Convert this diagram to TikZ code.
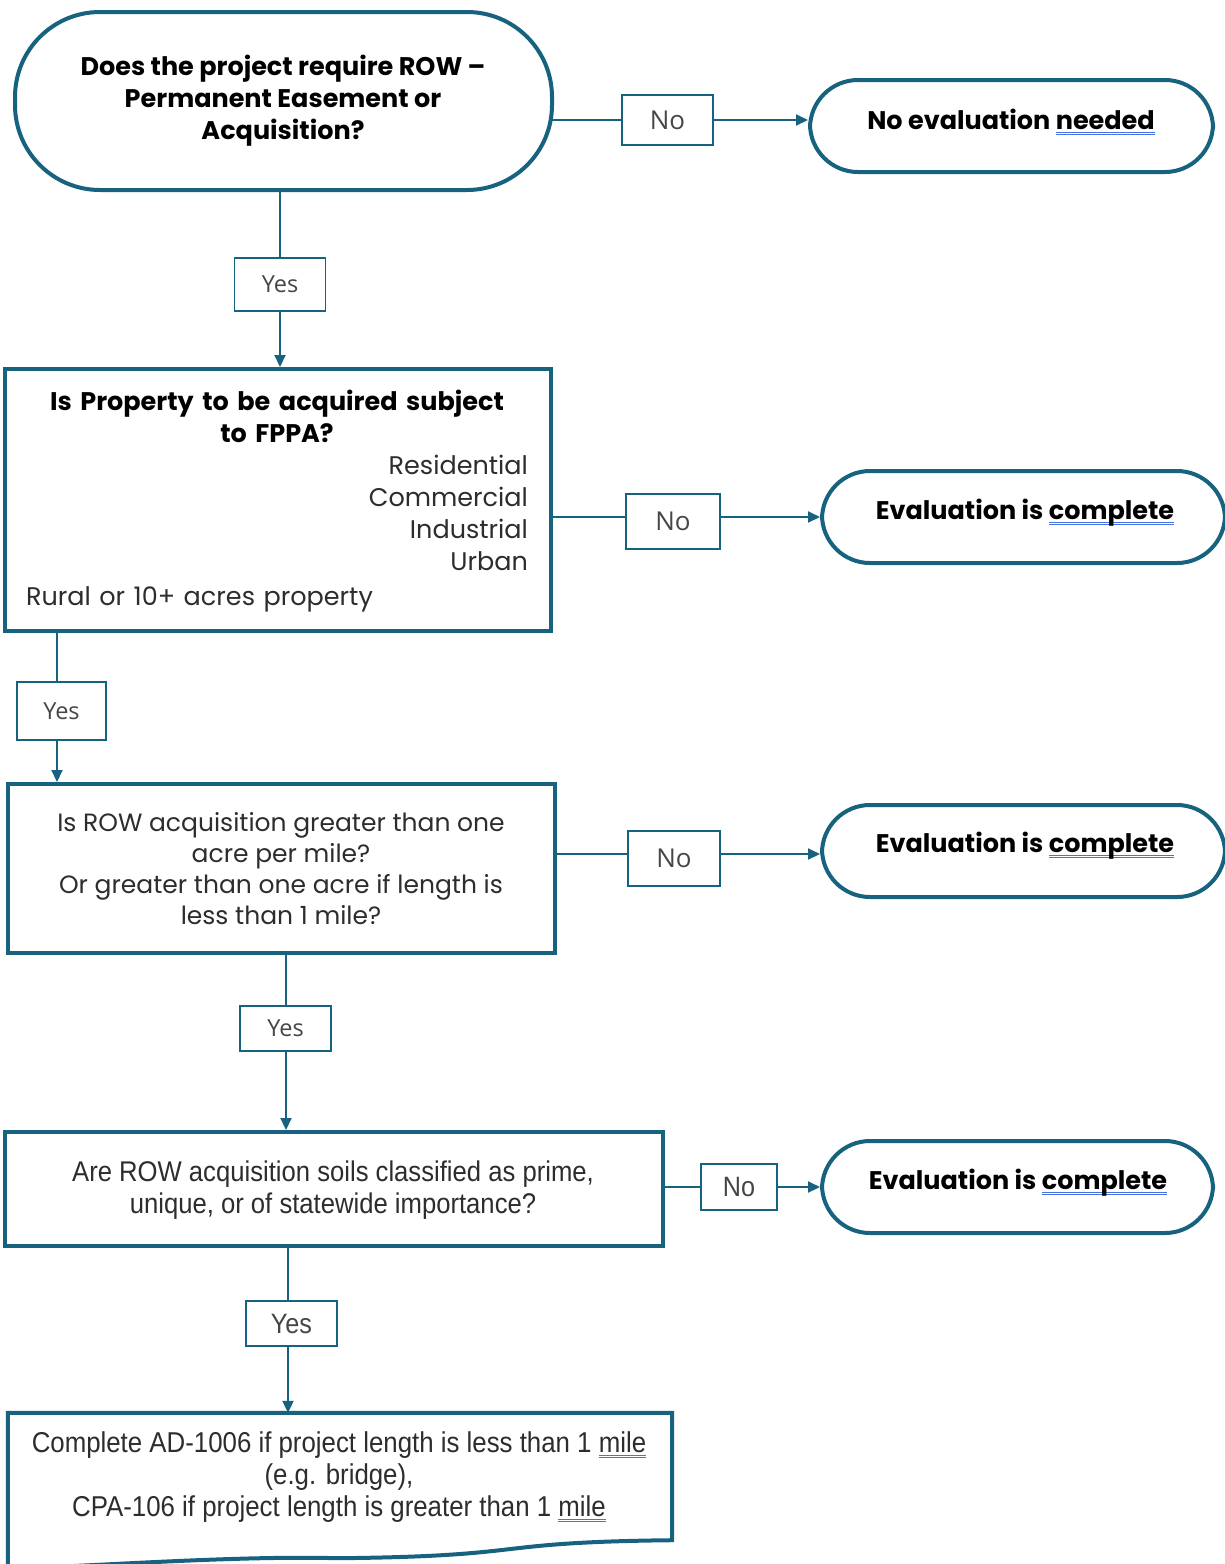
\documentclass[tikz,border=0pt]{standalone}
\usepackage{fontspec}
\setmainfont{Poppins}
\newfontfamily\robo{Liberation Sans}[FakeStretch=0.9]
\newfontfamily\opens{Open Sans}
\usetikzlibrary{arrows.meta}
\definecolor{tealc}{RGB}{22,98,127}
\definecolor{ulblue}{RGB}{70,115,225}
\definecolor{txtg}{RGB}{45,45,45}
\definecolor{lblg}{RGB}{70,70,70}
\newcommand\dblul[1]{\setbox0\hbox{#1}\leavevmode\rlap{\color{ulblue}\rule[-3.4pt]{\wd0}{1pt}}\rlap{\color{ulblue}\rule[-5.6pt]{\wd0}{1pt}}\box0}
\tikzset{
  thick box/.style={draw=tealc, line width=4pt, inner sep=0pt, fill=white},
  terminal/.style={thick box, rounded corners=#1},
  lbl/.style={draw=tealc, line width=1.6pt, fill=white, inner sep=0pt, text=lblg, font=\opens},
  conn/.style={draw=tealc, line width=2pt},
  arr/.style={conn, -{Triangle[length=12pt,width=11pt]}},
  bfont/.style={font=\fontsize{25.5}{32}\selectfont\bfseries},
}
\begin{document}
\begin{tikzpicture}[x=1pt,y=-1pt]
\clip (0,0) rectangle (1225,1564);
\fill[white] (0,0) rectangle (1225,1564);

% terminals
\node[terminal=85pt, minimum width=537pt, minimum height=178pt] (n1) at (283.5,101) {};
\node[align=center, bfont] (t1) at (283,101) {Does the project require ROW --\\Permanent Easement or\\Acquisition?};

\node[terminal=48pt, minimum width=403pt, minimum height=92pt] (e0) at (1011.5,126) {};
\node[bfont] (te0) at (1011,122) {No evaluation \dblul{needed}};

\node[terminal=48pt, minimum width=403pt, minimum height=92pt] (e1) at (1023.5,517) {};
\node[bfont] (te1) at (1025,513) {Evaluation is \dblul{complete}};

\node[terminal=48pt, minimum width=403pt, minimum height=92pt] (e2) at (1023.5,851) {};
\node[bfont] (te2) at (1025,846) {Evaluation is \dblul{complete}};

\node[terminal=48pt, minimum width=391pt, minimum height=92pt] (e3) at (1017.5,1187) {};
\node[bfont] (te3) at (1018,1183) {Evaluation is \dblul{complete}};

% box 2
\node[thick box, minimum width=546pt, minimum height=262pt] (b2) at (278,500) {};
\node[text width=502pt, align=left, inner sep=0pt, text=txtg, font=\fontsize{25.5}{32}\selectfont] (tb2) at (277,501) {%
{\centering\color{black}\bfseries Is Property to be acquired subject\\ to FPPA?\par}%
{\raggedleft Residential\\Commercial\\Industrial\\Urban\par}%
\vspace{3pt}{\raggedright Rural or 10+ acres property\par}};

% box 3
\node[thick box, minimum width=547pt, minimum height=169pt] (b3) at (281.5,868.5) {};
\node[align=center, text=txtg, font=\fontsize{25}{31}\selectfont] (tb3) at (281,869) {Is ROW acquisition greater than one\\acre per mile?\\Or greater than one acre if length is\\less than 1 mile?};

% box 4
\node[thick box, minimum width=658pt, minimum height=114pt] (b4) at (334,1189) {};
\node[align=center, text=txtg, font=\robo\fontsize{28.5}{32}\selectfont] (tb4) at (333,1190) {Are ROW acquisition soils classified as prime,\\unique, or of statewide importance?};

% box 5 (document shape)
\node[inner sep=0pt, minimum width=664pt, minimum height=149pt] (b5) at (340,1487.5) {};
\draw[draw=tealc, line width=4pt, fill=white, line join=miter]
  (b5.south west) -- (b5.north west) -- (b5.north east) -- ([yshift=22pt]b5.south east)
  .. controls +(-190,2) and +(200,-2) .. ([xshift=330pt,yshift=4pt]b5.south west)
  .. controls +(-110,-3) and +(60,0) .. ([yshift=-6pt]b5.south west) -- cycle;
\node[align=center, text=txtg, font=\robo\fontsize{28.7}{32}\selectfont] (tb5) at (339,1477) {Complete AD-1006 if project length is less than 1 \dblul{mile}\\(e.g. bridge),\\CPA-106 if project length is greater than 1 \dblul{mile}};

% labels
\node[lbl, minimum width=91pt, minimum height=50pt, font=\opens\fontsize{26}{28}\selectfont] (L1) at (667.5,120) {No};
\node[lbl, minimum width=91pt, minimum height=53pt, font=\opens\fontsize{23.5}{24}\selectfont] (L2) at (280,284.5) {Yes};
\node[lbl, minimum width=94pt, minimum height=55pt, font=\opens\fontsize{26}{28}\selectfont] (L3) at (673,521.5) {No};
\node[lbl, minimum width=89pt, minimum height=58pt, font=\opens\fontsize{23.5}{24}\selectfont] (L4) at (61.5,711) {Yes};
\node[lbl, minimum width=92pt, minimum height=55pt, font=\opens\fontsize{26}{28}\selectfont] (L5) at (674,858.5) {No};
\node[lbl, minimum width=91pt, minimum height=45pt, font=\opens\fontsize{23.5}{24}\selectfont] (L6) at (285.5,1028.5) {Yes};
\node[lbl, minimum width=76pt, minimum height=46pt, font=\robo\fontsize{28}{28}\selectfont] (L7) at (739,1187) {No};
\node[lbl, minimum width=91pt, minimum height=45pt, font=\robo\fontsize{28}{28}\selectfont] (L8) at (291.5,1323.5) {Yes};

% connectors
\coordinate (c1) at (552,120);
\draw[conn] (c1) -- (L1.west);
\draw[arr] (L1.east) -- (L1.east -| e0.west);
\draw[conn] (L2.north |- n1.south) -- (L2.north);
\draw[arr] (L2.south) -- (L2.south |- b2.north);

\coordinate (c3) at (551,517);
\draw[conn] (c3) -- (c3 -| L3.west);
\draw[arr] (c3 -| L3.east) -- (c3 -| e1.west);
\coordinate (c4) at (57,631);
\draw[conn] (c4) -- (c4 |- L4.north);
\draw[arr] (c4 |- L4.south) -- (c4 |- b3.north);

\coordinate (c5) at (555,854);
\draw[conn] (c5) -- (c5 -| L5.west);
\draw[arr] (c5 -| L5.east) -- (c5 -| e2.west);
\coordinate (c6) at (286,953);
\draw[conn] (c6) -- (c6 |- L6.north);
\draw[arr] (c6 |- L6.south) -- (c6 |- b4.north);

\coordinate (c7) at (663,1187);
\draw[conn] (c7) -- (L7.west);
\draw[arr] (L7.east) -- (L7.east -| e3.west);
\coordinate (c8) at (288,1246);
\draw[conn] (c8) -- (c8 |- L8.north);
\draw[arr] (c8 |- L8.south) -- (c8 |- b5.north);
\end{tikzpicture}
\end{document}
